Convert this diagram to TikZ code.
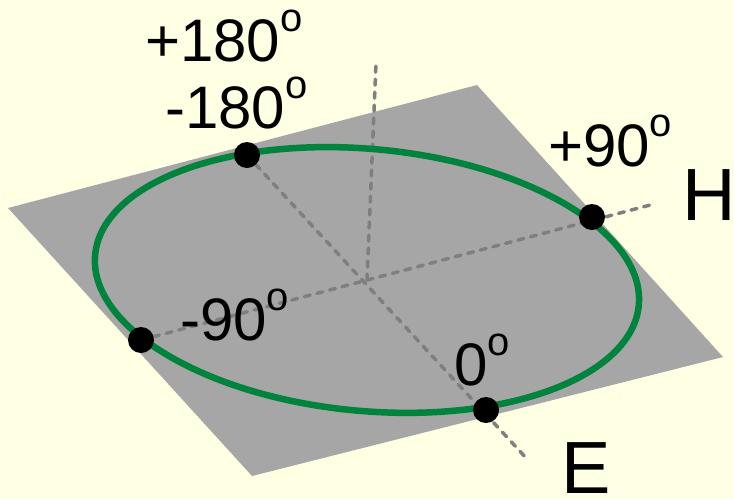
\documentclass[tikz,border=0pt]{standalone}
\usepackage{fontspec}
\setmainfont{Liberation Sans}

\definecolor{paper}{HTML}{FFFFE3}
\definecolor{plane}{HTML}{A6A6A6}
\definecolor{ringgreen}{HTML}{00833D}
\definecolor{axisgray}{HTML}{7F7F7F}

\newcommand{\dg}{\raisebox{30pt}{\fontsize{40}{40}\selectfont o}}

\begin{document}
\begin{tikzpicture}[
            x=1pt, y=-1pt,
            axis/.style={draw=axisgray, line width=3.5pt, line cap=round, dash pattern=on 6pt off 7pt},
            ring/.style={draw=ringgreen, line width=6.5pt},
            dot/.style={circle, fill=black, minimum size=26pt, inner sep=0pt},
            lbl/.style={inner sep=0pt, anchor=base west, font=\fontsize{60}{72}\selectfont},
            axlbl/.style={inner sep=0pt, anchor=base west, font=\fontsize{74}{88}\selectfont}
        ]
        % --- Background and plane ---
        \fill[paper] (0,0) rectangle (734,499);
        \useasboundingbox (0,0) rectangle (734,499);
        \fill[plane] (8,208) -- (477,85) -- (723,357) -- (252,476) -- cycle;

        % --- Points ---
        \coordinate (ctr) at (367,280);
        \coordinate (hEnd) at (654,204);
        \coordinate (eEnd) at (528,460);
        \coordinate (zEnd) at (376,63);

        % --- Axes ---
        \draw[axis] (ctr) -- (zEnd);
        \draw[axis] (141,340) -- (hEnd);
        \draw[axis] (247,155) -- (eEnd);

        % --- Ellipse ---
        \draw[ring, rotate around={-5.3:(ctr)}] (ctr) ellipse [x radius=273, y radius=131];

        % --- Dots on the ellipse ---
        \node[dot] (dM180) at (247,155) {};
        \node[dot] (dP90) at (592,217) {};
        \node[dot] (dM90) at (141,340) {};
        \node[dot] (dZero) at (486,410) {};

        % --- Labels ---
        \node[lbl] (tP180) at (145,61) {+180\dg};
        \node[lbl] (tM180) at (165,128) {-180\dg};
        \node[lbl] (tP90) at (548,166) {+90\dg};
        \node[lbl] (tM90) at (180,340) {-90\dg};
        \node[lbl] (tZero) at (454,385) {0\dg};
        \node[axlbl] (tH) at (682,220) {H};
        \node[axlbl] (tE) at (561,493) {E};
        \end{tikzpicture}
\end{document}
